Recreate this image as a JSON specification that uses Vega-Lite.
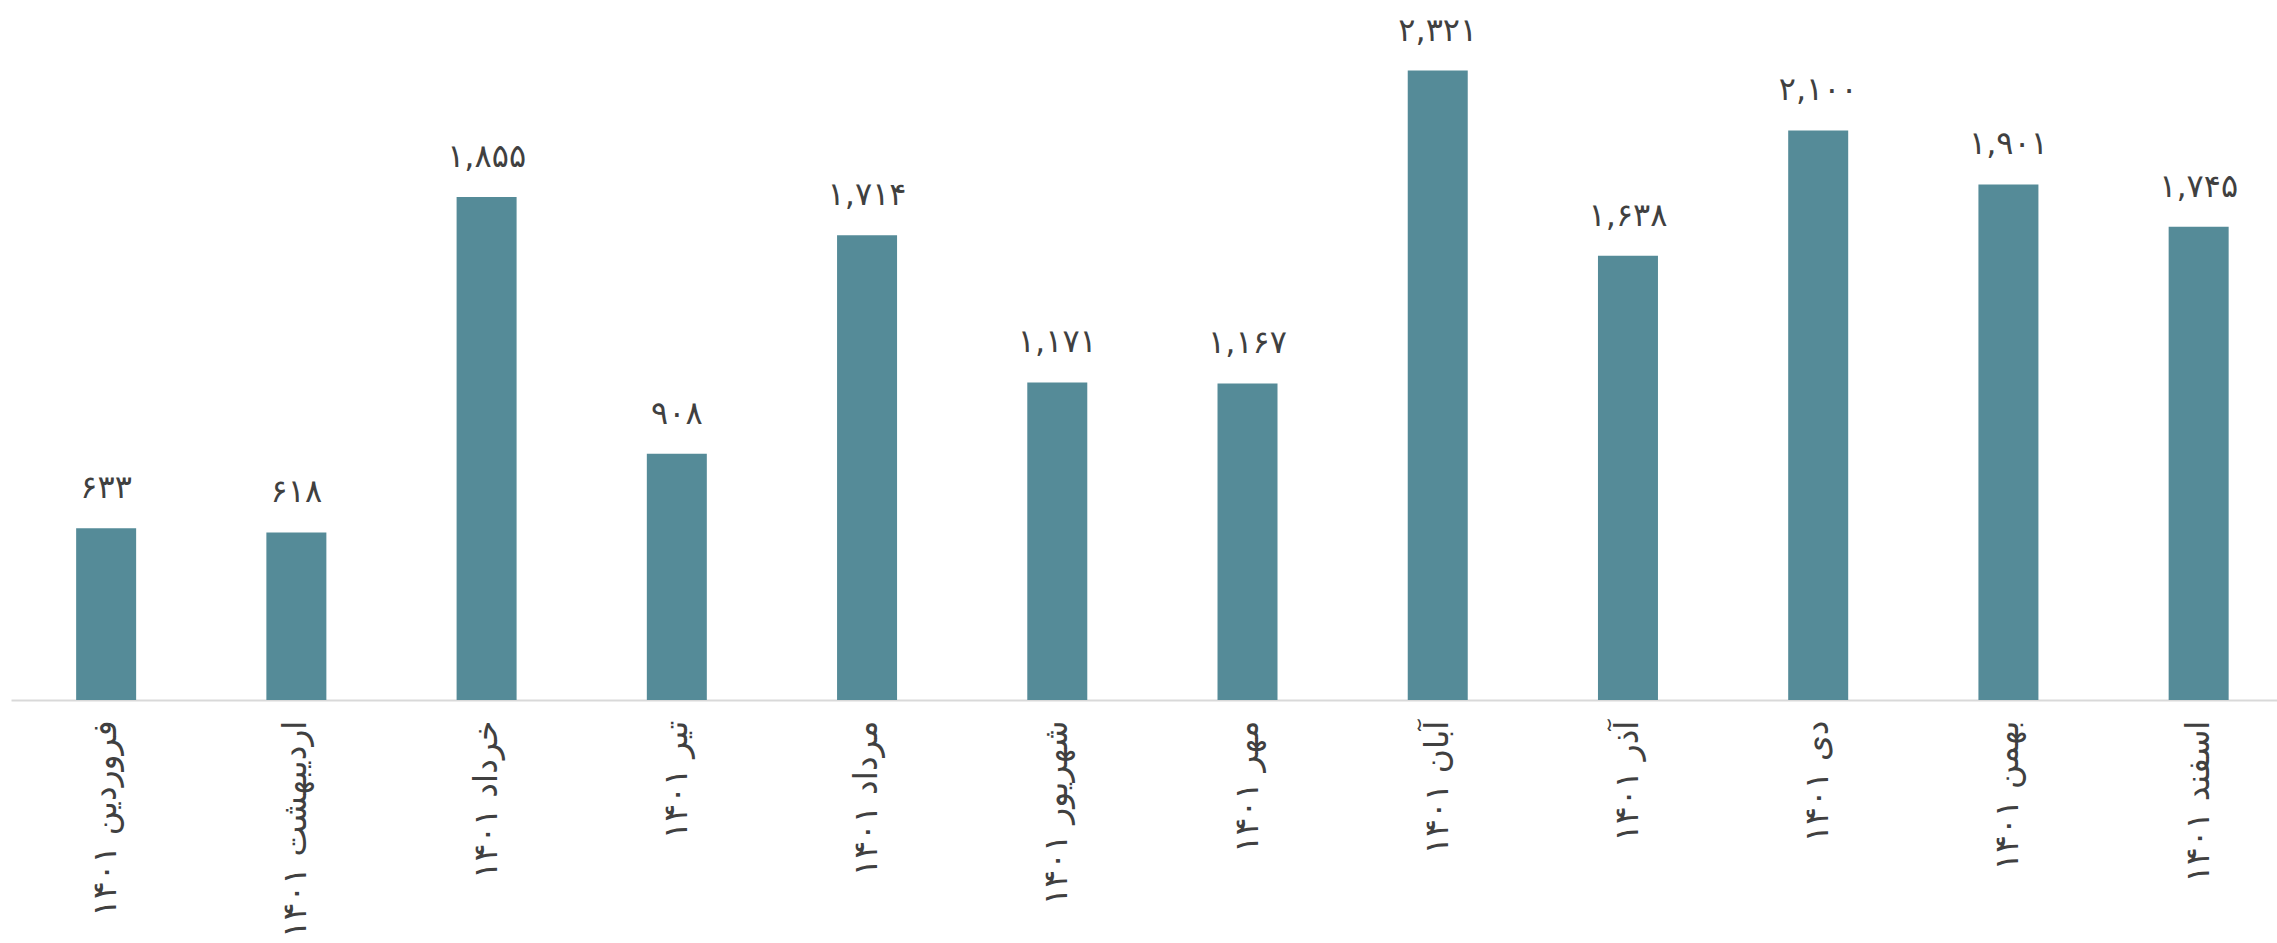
{
  "$schema": "https://vega.github.io/schema/vega-lite/v6.json",
  "autosize": {"type": "none"},
  "padding": {"left": 11, "right": 0, "top": 0, "bottom": 243},
  "width": 2266,
  "height": 700,
  "background": "white",
  "config": {
    "view": {"stroke": null},
    "locale": {
      "number": {
        "decimal": ".",
        "thousands": ",",
        "grouping": [3],
        "currency": ["", ""],
        "numerals": ["۰", "۱", "۲", "۳", "۴", "۵", "۶", "۷", "۸", "۹"]
      }
    }
  },
  "data": {
    "values": [
      {"month": "فروردین ۱۴۰۱", "value": 633},
      {"month": "اردیبهشت ۱۴۰۱", "value": 618},
      {"month": "خرداد ۱۴۰۱", "value": 1855},
      {"month": "تیر ۱۴۰۱", "value": 908},
      {"month": "مرداد ۱۴۰۱", "value": 1714},
      {"month": "شهریور ۱۴۰۱", "value": 1171},
      {"month": "مهر ۱۴۰۱", "value": 1167},
      {"month": "آبان ۱۴۰۱", "value": 2321},
      {"month": "آذر ۱۴۰۱", "value": 1638},
      {"month": "دی ۱۴۰۱", "value": 2100},
      {"month": "بهمن ۱۴۰۱", "value": 1901},
      {"month": "اسفند ۱۴۰۱", "value": 1745}
    ]
  },
  "encoding": {
    "x": {
      "field": "month",
      "type": "nominal",
      "sort": null,
      "scale": {"paddingInner": 0.6846, "paddingOuter": 0.2983, "align": 0.574},
      "axis": {
        "title": null,
        "labelAngle": -90,
        "labelFontSize": 33,
        "labelFont": "DejaVu Sans",
        "labelColor": "#404040",
        "labelPadding": 20,
        "ticks": false,
        "domainColor": "#d9d9d9",
        "domainWidth": 2,
        "labelLimit": 0
      }
    },
    "y": {
      "field": "value",
      "type": "quantitative",
      "scale": {"domain": [0, 2581], "nice": false},
      "axis": null
    }
  },
  "layer": [
    {"mark": {"type": "bar", "color": "#558b98"}},
    {
      "mark": {"type": "text", "dy": -30, "baseline": "alphabetic", "fontSize": 32, "font": "DejaVu Sans", "color": "#404040"},
      "encoding": {"text": {"field": "value", "type": "quantitative", "format": ","}}
    }
  ]
}
